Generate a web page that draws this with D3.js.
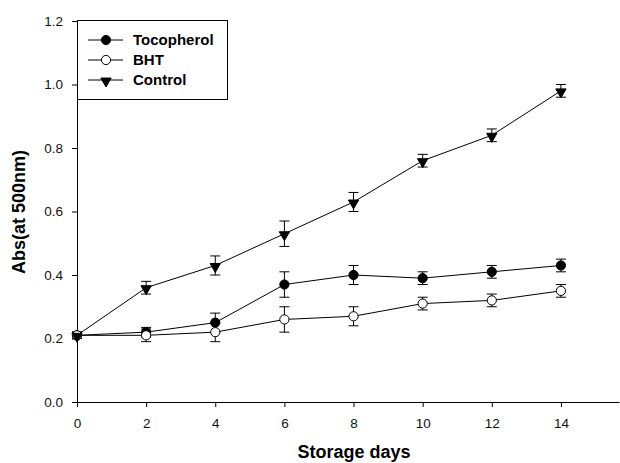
<!DOCTYPE html>
<html>
<head>
<meta charset="utf-8">
<script src="https://cdn.jsdelivr.net/npm/d3@7"></script>
<style>
  html, body { margin: 0; padding: 0; background: #fff; }
  svg { display: block; font-family: "Liberation Sans", Arial, sans-serif; }
</style>
</head>
<body>
<svg id="chart" width="620" height="463"></svg>
<script>
// Storage days (x values)
const days = [0, 2, 4, 6, 8, 10, 12, 14];

// Mean absorbance at 500 nm per treatment
const tocopherol = [0.21, 0.22, 0.25, 0.37, 0.40, 0.39, 0.41, 0.43];
const bht        = [0.21, 0.21, 0.22, 0.26, 0.27, 0.31, 0.32, 0.35];
const control    = [0.21, 0.36, 0.43, 0.53, 0.63, 0.76, 0.84, 0.98];

// Standard deviations (error bar half-lengths)
const tocopherolErr = [0.01, 0.015, 0.03, 0.04, 0.03, 0.02, 0.02, 0.02];
const bhtErr        = [0.01, 0.02, 0.03, 0.04, 0.03, 0.02, 0.02, 0.02];
const controlErr    = [0.01, 0.02, 0.03, 0.04, 0.03, 0.02, 0.02, 0.02];

const xTicks = [0, 2, 4, 6, 8, 10, 12, 14];
const yTicks = [0.0, 0.2, 0.4, 0.6, 0.8, 1.0, 1.2];

const seriesNames = ["Tocopherol", "BHT", "Control"];

const series = [
  { name: seriesNames[0], values: tocopherol, err: tocopherolErr, symbol: "circleFilled" },
  { name: seriesNames[1], values: bht,        err: bhtErr,        symbol: "circleOpen" },
  { name: seriesNames[2], values: control,    err: controlErr,    symbol: "triangleDown" }
];

const svg = d3.select("#chart");
const plotLeft = 77, plotRight = 619, plotTop = 21, plotBottom = 402;

const x = d3.scaleLinear().domain([0, 15.68]).range([plotLeft, plotRight]);
const y = d3.scaleLinear().domain([0, 1.2]).range([plotBottom, plotTop]);

// Axes
const xAxis = d3.axisBottom(x).tickValues(xTicks).tickSize(5).tickSizeOuter(0)
  .tickFormat(d3.format("d"));
const yAxis = d3.axisLeft(y).tickValues(yTicks).tickSize(5).tickSizeOuter(0)
  .tickFormat(d3.format(".1f"));

const gx = svg.append("g").attr("transform", `translate(0,${plotBottom})`).call(xAxis);
const gy = svg.append("g").attr("transform", `translate(${plotLeft},0)`).call(yAxis);

[gx, gy].forEach(g => {
  g.select(".domain").attr("stroke", "#000").attr("stroke-width", 1);
  g.selectAll(".tick line").attr("stroke", "#000");
  g.selectAll(".tick text").attr("fill", "#111").attr("font-size", "13.5px")
    .attr("font-family", "'Liberation Sans', Arial, sans-serif");
});
gx.selectAll(".tick text").attr("dy", "0.71em").attr("y", 16);
gy.selectAll(".tick text").attr("x", -14);

// Axis titles
svg.append("text")
  .attr("x", 354).attr("y", 458)
  .attr("text-anchor", "middle")
  .attr("font-size", "18px").attr("font-weight", "bold")
  .text("Storage days");

svg.append("text")
  .attr("transform", "translate(25,212) rotate(-90)")
  .attr("text-anchor", "middle")
  .attr("font-size", "18px").attr("font-weight", "bold")
  .text("Abs(at 500nm)");

// Marker drawing helper
function drawMarker(g, kind, cx, cy) {
  if (kind === "circleFilled") {
    g.append("circle").attr("cx", cx).attr("cy", cy).attr("r", 4.6)
      .attr("fill", "#000").attr("stroke", "#000");
  } else if (kind === "circleOpen") {
    g.append("circle").attr("cx", cx).attr("cy", cy).attr("r", 4.6)
      .attr("fill", "#fff").attr("stroke", "#000").attr("stroke-width", 1);
  } else {
    const s = d3.symbol().type(d3.symbolTriangle).size(46);
    g.append("path").attr("d", s())
      .attr("transform", `translate(${cx},${cy + 1}) rotate(180)`)
      .attr("fill", "#000").attr("stroke", "#000");
  }
}

const line = d3.line().x(d => x(d.day)).y(d => y(d.v));
const plot = svg.append("g");

series.forEach(s => {
  const pts = days.map((d, i) => ({ day: d, v: s.values[i], e: s.err[i] }));
  const g = plot.append("g");
  g.append("path").datum(pts).attr("d", line)
    .attr("fill", "none").attr("stroke", "#000").attr("stroke-width", 1);
  // Error bars with caps
  pts.forEach(p => {
    const cx = x(p.day), y1 = y(p.v + p.e), y0 = y(p.v - p.e);
    g.append("line").attr("x1", cx).attr("x2", cx).attr("y1", y1).attr("y2", y0)
      .attr("stroke", "#000");
    [y1, y0].forEach(yy => g.append("line")
      .attr("x1", cx - 5).attr("x2", cx + 5).attr("y1", yy).attr("y2", yy)
      .attr("stroke", "#000"));
  });
});

// Markers drawn on top of lines
series.forEach(s => {
  const g = plot.append("g");
  days.forEach((d, i) => drawMarker(g, s.symbol, x(d), y(s.values[i])));
});

// Legend
const lg = svg.append("g");
lg.append("rect").attr("x", 77.5).attr("y", 20.5).attr("width", 150).attr("height", 79)
  .attr("fill", "#fff").attr("stroke", "#000");
series.forEach((s, i) => {
  const ly = 40 + i * 20;
  lg.append("line").attr("x1", 88).attr("x2", 123).attr("y1", ly).attr("y2", ly)
    .attr("stroke", "#000");
  drawMarker(lg, s.symbol, 106, ly);
  lg.append("text").attr("x", 133).attr("y", ly).attr("dy", "0.36em")
    .attr("font-size", "15px").attr("font-weight", "bold").text(s.name);
});
</script>
</body>
</html>
